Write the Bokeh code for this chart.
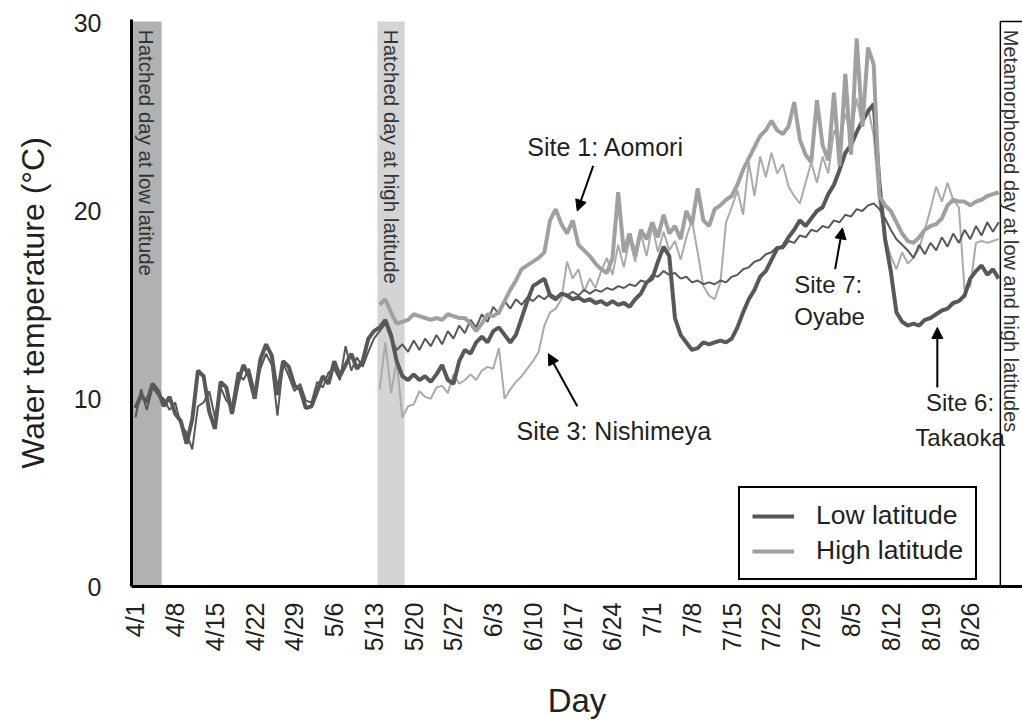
import math
from bokeh.plotting import figure
from bokeh.models import (FixedTicker, Label, Arrow, NormalHead, Legend, LegendItem, Range1d)
from bokeh.embed import file_html
from bokeh.resources import INLINE

# ---------------- data ----------------
tick_days = [0, 7, 14, 21, 28, 35, 42, 49, 56, 63, 70, 77, 84, 91, 98, 105, 112, 119, 126, 133, 140, 147]
tick_labels = ["4/1", "4/8", "4/15", "4/22", "4/29", "5/6", "5/13", "5/20", "5/27", "6/3", "6/10",
               "6/17", "6/24", "7/1", "7/8", "7/15", "7/22", "7/29", "8/5", "8/12", "8/19", "8/26"]
y_ticks = [0, 10, 20, 30]

# days since 4/1 of first value of each series
low_start_day = 0
high_start_day = 43

# Site 6: Takaoka (low latitude, thick)
site6 = [
    9.5, 10.2, 9.8, 10.8, 10.4, 9.6, 10.1, 9.2, 8.8, 7.6,
    8.9, 11.5, 11.2, 9.3, 8.4, 10.9, 10.6, 9.2, 10.8, 11.8,
    11.2, 10.0, 12.1, 12.9, 12.3, 10.2, 12.0, 11.7, 10.7, 10.5,
    9.5, 9.6, 10.4, 11.2, 10.8, 12.0, 11.2, 11.8, 12.4, 11.6,
    12.0, 13.2, 13.6, 13.8, 14.2, 13.4, 12.0, 11.2, 11.0, 11.3,
    11.0, 11.2, 10.9, 11.3, 11.8, 11.0, 10.8, 12.0, 12.6, 12.4,
    13.0, 13.3, 13.0, 13.6, 13.8, 13.4, 13.0, 13.4, 14.3, 15.2,
    16.0, 16.2, 16.4, 15.5, 15.3, 15.6, 15.5, 15.3, 15.4, 15.2,
    15.3, 15.1, 15.2, 15.0, 15.2, 15.0, 15.1, 14.9, 15.3, 15.6,
    16.2, 16.4, 17.3, 18.1, 17.6, 14.3, 13.4, 13.0, 12.6, 12.7,
    13.0, 12.9, 13.0, 13.1, 13.0, 13.2, 13.8, 14.6, 15.3, 15.8,
    16.5, 16.8, 17.4, 18.0, 18.1, 18.6, 19.0, 19.5, 19.2, 19.6,
    20.0, 20.2, 20.9, 21.4, 22.2, 23.1, 23.5, 24.2, 24.8, 25.3,
    25.7, 21.5, 18.5, 16.8, 14.6, 14.1, 13.9, 14.0, 13.9, 14.2,
    14.3, 14.5, 14.7, 14.8, 15.1, 15.2, 15.5, 16.4, 16.8, 17.1,
    16.6, 16.9, 16.4]

# Site 7: Oyabe (low latitude, thin)
site7 = [
    9.0, 10.5, 9.4, 10.6, 10.2, 10.0, 9.4, 9.8, 8.6, 8.2,
    7.3, 9.6, 9.8, 10.4, 9.0, 10.6, 9.9, 9.6, 11.4, 11.0,
    11.6, 10.4, 11.6, 12.4, 11.8, 9.1, 11.9, 11.2, 10.4, 10.8,
    9.9, 9.8, 10.9, 10.6, 11.4, 11.6, 11.0, 12.8, 11.5, 12.2,
    11.7, 12.5, 13.2, 13.6, 14.0, 13.2, 12.6, 12.9, 12.5, 13.1,
    12.6, 13.2, 12.8, 13.4, 12.9, 13.6, 13.2, 13.9, 13.5, 14.2,
    13.8, 14.5, 14.1, 14.9, 14.5, 15.2, 14.8, 15.3, 15.0, 15.4,
    15.2, 15.5, 15.3, 15.6, 15.4, 15.6, 15.5, 15.7, 15.5, 15.8,
    15.6, 15.8, 15.7, 15.9, 15.8, 16.0, 15.9, 16.1, 16.0, 16.3,
    16.2, 16.6, 16.5, 16.8, 16.6, 16.7, 16.4, 16.5, 16.2, 16.3,
    16.1, 16.2, 16.1, 16.3, 16.2, 16.5, 16.6, 16.9, 17.0, 17.3,
    17.4, 17.7, 17.8, 18.1, 18.0, 18.4, 18.3, 18.7, 18.6, 19.0,
    18.9, 19.2, 19.1, 19.5, 19.4, 19.8, 19.7, 20.1, 20.0, 20.3,
    20.4, 20.1, 19.6, 19.0, 18.5, 18.2, 17.9, 17.5, 18.2, 17.7,
    18.3, 17.9, 18.6, 18.1, 18.8, 18.3, 19.0, 18.5, 19.2, 18.7,
    19.4, 18.9, 19.4]

# Site 1: Aomori (high latitude, thick)
site1 = [
    15.0, 15.3, 14.6, 14.0, 14.1, 14.2, 14.5, 14.4, 14.3, 14.2,
    14.3, 14.2, 14.5, 14.4, 14.3, 14.3, 14.0, 13.6, 14.0, 14.5,
    14.4, 14.6, 15.2, 15.8, 16.3, 16.9, 17.1, 17.3, 17.5, 17.8,
    19.5, 20.1, 19.3, 18.8, 19.5, 18.2, 17.9, 17.6, 17.2, 16.9,
    16.7, 17.5, 21.0, 17.8, 18.8, 17.6, 19.0, 18.5, 19.4, 18.6,
    19.8, 18.8, 19.2, 18.5, 20.0, 19.3, 21.2, 19.5, 19.2, 20.1,
    20.3, 20.6, 20.8, 21.4, 22.2, 22.8, 23.4, 24.0, 24.3, 24.8,
    24.3, 24.1, 24.5, 25.8, 23.8, 23.0, 22.6, 25.9, 23.5, 22.7,
    26.3, 22.4, 27.3, 23.0, 29.2, 24.5, 28.7, 27.8, 20.8, 20.3,
    20.0, 19.4, 18.8, 18.4, 18.3, 18.6, 19.0, 19.2, 19.3, 19.6,
    20.3, 20.6, 20.5, 20.5, 20.3, 20.5, 20.6, 20.8, 20.9, 21.0]

# Site 3: Nishimeya (high latitude, thin)
site3 = [
    10.5, 13.0, 10.3, 12.0, 9.0, 9.6, 9.7, 10.4, 10.1, 10.0,
    10.6, 10.7, 10.3, 11.3, 10.8, 11.0, 11.3, 11.0, 11.5, 11.7,
    11.6, 12.7, 10.0, 10.5, 10.9, 11.2, 11.6, 12.0, 12.5, 13.9,
    14.6, 14.8, 15.3, 17.3, 16.4, 16.9, 15.7, 16.4, 15.9, 16.8,
    17.5, 16.6, 18.2, 17.0, 18.5, 17.3, 18.8, 17.6, 19.2, 17.8,
    18.9, 17.9, 18.4, 17.4, 18.6, 19.5, 17.8, 16.0, 15.5, 15.3,
    16.2, 19.4, 20.2, 21.1, 19.8, 22.6, 20.8, 22.9, 21.8, 23.1,
    22.0, 22.5, 21.3, 20.8, 20.4, 21.5, 22.6, 21.5, 22.9, 22.0,
    24.3, 23.6, 25.2, 24.0, 26.0, 24.5, 25.5, 24.0, 20.4, 18.6,
    17.6, 16.9, 17.8, 17.2, 17.5, 18.0, 19.0, 20.1, 21.3, 20.5,
    21.5, 20.6, 20.2, 15.8, 16.0, 18.3, 18.4, 18.3, 18.4, 18.5]

# shaded periods (days since 4/1)
band_left = [-0.7, 42.6]
band_right = [4.6, 47.4]
band_colors = ["#b0b1b3", "#d3d4d6"]
band_texts = ["Hatched day at low latitude", "Hatched day at high latitude"]
metamorph_day = 152.3

DARK = "#58585a"
LIGHT = "#a0a0a2"
LIGHT_THIN = "#aaaaac"
TXT = "#231f20"
FONT = "Liberation Sans"

def days_for(start, vals):
    return [start + i for i in range(len(vals))]

# ---------------- figure ----------------
p = figure(width=1022, height=722, output_backend="svg", toolbar_location=None,
           x_range=Range1d(-0.7, 156.2), y_range=Range1d(0, 30.2))
p.min_border_left = 131
p.min_border_right = 0
p.min_border_top = 19
p.min_border_bottom = 132
p.outline_line_color = None
p.xgrid.visible = False
p.ygrid.visible = False
p.background_fill_color = "white"
p.border_fill_color = "white"

# bands
p.quad(left=band_left, right=band_right, bottom=0, top=30.1, fill_color=band_colors, line_color=None)
# metamorphosis box
p.quad(left=[metamorph_day], right=[170], bottom=[0], top=[30.1], fill_color=None,
       line_color="black", line_width=1.5)

# lines
p.line(days_for(high_start_day, site3), site3, line_color=LIGHT_THIN, line_width=2)
p.line(days_for(low_start_day, site7), site7, line_color=DARK, line_width=2)
r6 = p.line(days_for(low_start_day, site6), site6, line_color=DARK, line_width=4)
r1 = p.line(days_for(high_start_day, site1), site1, line_color=LIGHT, line_width=4)

legend = Legend(items=[LegendItem(label="Low latitude", renderers=[r6]),
                       LegendItem(label="High latitude", renderers=[r1])],
                location=(607, 6), border_line_color="black", border_line_width=2,
                border_line_alpha=1.0,
                label_text_font=FONT, label_text_font_size="26.5px", label_text_color=TXT,
                glyph_width=42, glyph_height=24, label_height=24, label_standoff=22,
                padding=12, spacing=4, margin=0, background_fill_alpha=1.0)
p.add_layout(legend)

# axes
for ax in (p.xaxis[0], p.yaxis[0]):
    ax.axis_line_width = 3
    ax.axis_line_color = "black"
    ax.major_tick_line_color = None
    ax.minor_tick_line_color = None
    ax.major_label_text_font = FONT
    ax.major_label_text_font_size = "25px"
    ax.major_label_text_color = TXT
    ax.axis_label_text_font = FONT
    ax.axis_label_text_font_style = "normal"
    ax.axis_label_text_color = TXT

p.xaxis.ticker = FixedTicker(ticks=tick_days)
p.xaxis.major_label_overrides = {d: l for d, l in zip(tick_days, tick_labels)}
p.xaxis.major_label_orientation = math.pi / 2
p.xaxis.major_label_standoff = 10
p.xaxis.axis_label = "Day"
p.xaxis.axis_label_text_font_size = "33px"
p.xaxis.axis_label_standoff = 28

p.yaxis.ticker = FixedTicker(ticks=y_ticks)
p.yaxis.major_label_standoff = 24
p.yaxis.axis_label = "Water temperature (°C)"
p.yaxis.axis_label_text_font_size = "32px"
p.yaxis.axis_label_standoff = 20

# rotated band texts
for lft, rgt, txt in zip(band_left, band_right, band_texts):
    p.add_layout(Label(x=(lft + rgt) / 2, y=29.65, text=txt, angle=-math.pi / 2,
                       text_align="left", text_baseline="middle", text_font=FONT,
                       text_font_size="20.5px", text_color="#333333"))
p.add_layout(Label(x=154.25, y=29.65, text="Metamorphosed day at low and high latitudes",
                   angle=-math.pi / 2, text_align="left", text_baseline="middle",
                   text_font=FONT, text_font_size="20px", text_color="#333333"))

# site annotations
def lab(x, y, t, align="left", size="25px"):
    p.add_layout(Label(x=x, y=y, text=t, text_align=align, text_baseline="middle",
                       text_font=FONT, text_font_size=size, text_color=TXT))

def arrow(x0, y0, x1, y1):
    p.add_layout(Arrow(end=NormalHead(size=11, fill_color="black", line_color="black"),
                       x_start=x0, y_start=y0, x_end=x1, y_end=y1,
                       line_color="black", line_width=2))

lab(69.0, 23.4, "Site 1: Aomori")
arrow(80.6, 22.4, 77.8, 20.0)
lab(67.1, 8.3, "Site 3: Nishimeya")
arrow(77.8, 9.6, 72.7, 12.4)
lab(116.0, 16.1, "Site 7:", size="24px")
lab(116.0, 14.4, "Oyabe", size="24px")
arrow(123.2, 16.9, 124.5, 19.1)
lab(145.2, 9.8, "Site 6:", align="center", size="24px")
lab(145.2, 7.95, "Takaoka", align="center", size="24px")
arrow(141.2, 10.6, 141.2, 13.8)

open("out.html", "w").write(file_html(p, INLINE))
